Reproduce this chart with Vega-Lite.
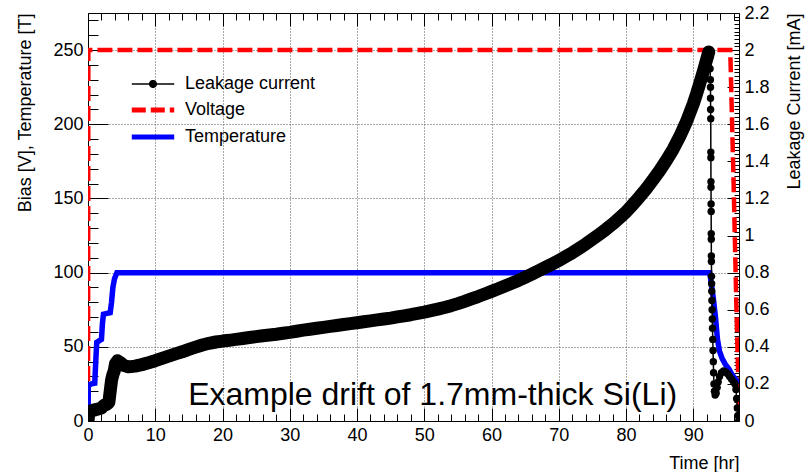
{
  "$schema": "https://vega.github.io/schema/vega-lite/v6.json",
  "width": 651,
  "height": 408,
  "autosize": "none",
  "padding": {"left": 88, "top": 13, "right": 69, "bottom": 51},
  "background": "white",
  "config": {
    "font": "Liberation Sans",
    "view": {"stroke": "black", "strokeWidth": 1},
    "axis": {
      "labelFont": "Liberation Sans", "titleFont": "Liberation Sans",
      "labelFontSize": 18, "titleFontSize": 18, "titleFontWeight": "normal",
      "labelColor": "black", "titleColor": "black", "tickColor": "black", "tickWidth": 1,
      "domain": false, "labelFlush": false, "labelOverlap": false,
      "gridColor": "#555", "gridDash": [1, 2], "gridWidth": 1
    }
  },
  "datasets": {
    "voltage": [
      {"t": 0, "v": 0, "series": "Voltage"},
      {"t": 0.05, "v": 250, "series": "Voltage"},
      {"t": 95.5, "v": 250, "series": "Voltage"},
      {"t": 96.0, "v": 160, "series": "Voltage"},
      {"t": 96.4, "v": 80, "series": "Voltage"},
      {"t": 96.85, "v": 0, "series": "Voltage"}
    ],
    "temperature": [
      {"t": 0, "v": 0, "series": "Temperature"},
      {"t": 0.05, "v": 24, "series": "Temperature"},
      {"t": 0.5, "v": 25, "series": "Temperature"},
      {"t": 1.0, "v": 25.5, "series": "Temperature"},
      {"t": 1.15, "v": 40, "series": "Temperature"},
      {"t": 1.3, "v": 53, "series": "Temperature"},
      {"t": 2.0, "v": 55, "series": "Temperature"},
      {"t": 2.15, "v": 66, "series": "Temperature"},
      {"t": 2.3, "v": 72, "series": "Temperature"},
      {"t": 3.3, "v": 73, "series": "Temperature"},
      {"t": 3.5, "v": 80, "series": "Temperature"},
      {"t": 3.7, "v": 90, "series": "Temperature"},
      {"t": 3.95, "v": 96, "series": "Temperature"},
      {"t": 4.3, "v": 100, "series": "Temperature"},
      {"t": 92.45, "v": 100, "series": "Temperature"},
      {"t": 92.7, "v": 92, "series": "Temperature"},
      {"t": 93.0, "v": 82, "series": "Temperature"},
      {"t": 93.3, "v": 70, "series": "Temperature"},
      {"t": 93.6, "v": 55, "series": "Temperature"},
      {"t": 93.9, "v": 47, "series": "Temperature"},
      {"t": 94.3, "v": 42, "series": "Temperature"},
      {"t": 94.8, "v": 38, "series": "Temperature"},
      {"t": 95.3, "v": 35, "series": "Temperature"},
      {"t": 95.8, "v": 31, "series": "Temperature"},
      {"t": 96.3, "v": 28, "series": "Temperature"},
      {"t": 96.8, "v": 25.5, "series": "Temperature"}
    ],
    "note": [
      {"t": 51.25, "v": 10.8, "label": "Example drift of 1.7mm-thick Si(Li)"}
    ],
    "leak": [
      {"t": 0, "mA": 0.0, "phase": "drift", "series": "Leakage current"},
      {"t": 0.15, "mA": 0.05, "phase": "drift", "series": "Leakage current"},
      {"t": 0.5, "mA": 0.055, "phase": "drift", "series": "Leakage current"},
      {"t": 1.0, "mA": 0.06, "phase": "drift", "series": "Leakage current"},
      {"t": 1.5, "mA": 0.065, "phase": "drift", "series": "Leakage current"},
      {"t": 2.0, "mA": 0.07, "phase": "drift", "series": "Leakage current"},
      {"t": 2.4, "mA": 0.085, "phase": "drift", "series": "Leakage current"},
      {"t": 2.8, "mA": 0.09, "phase": "drift", "series": "Leakage current"},
      {"t": 3.1, "mA": 0.1, "phase": "drift", "series": "Leakage current"},
      {"t": 3.3, "mA": 0.16, "phase": "drift", "series": "Leakage current"},
      {"t": 3.5, "mA": 0.22, "phase": "drift", "series": "Leakage current"},
      {"t": 3.7, "mA": 0.25, "phase": "drift", "series": "Leakage current"},
      {"t": 3.9, "mA": 0.27, "phase": "drift", "series": "Leakage current"},
      {"t": 4.1, "mA": 0.31, "phase": "drift", "series": "Leakage current"},
      {"t": 4.4, "mA": 0.325, "phase": "drift", "series": "Leakage current"},
      {"t": 4.8, "mA": 0.315, "phase": "drift", "series": "Leakage current"},
      {"t": 5.3, "mA": 0.3, "phase": "drift", "series": "Leakage current"},
      {"t": 6, "mA": 0.292, "phase": "drift", "series": "Leakage current"},
      {"t": 7, "mA": 0.296, "phase": "drift", "series": "Leakage current"},
      {"t": 8, "mA": 0.304, "phase": "drift", "series": "Leakage current"},
      {"t": 9, "mA": 0.314, "phase": "drift", "series": "Leakage current"},
      {"t": 10, "mA": 0.325, "phase": "drift", "series": "Leakage current"},
      {"t": 11, "mA": 0.338, "phase": "drift", "series": "Leakage current"},
      {"t": 12, "mA": 0.35, "phase": "drift", "series": "Leakage current"},
      {"t": 13, "mA": 0.362, "phase": "drift", "series": "Leakage current"},
      {"t": 14, "mA": 0.373, "phase": "drift", "series": "Leakage current"},
      {"t": 15, "mA": 0.386, "phase": "drift", "series": "Leakage current"},
      {"t": 16, "mA": 0.398, "phase": "drift", "series": "Leakage current"},
      {"t": 17, "mA": 0.41, "phase": "drift", "series": "Leakage current"},
      {"t": 18, "mA": 0.419, "phase": "drift", "series": "Leakage current"},
      {"t": 19, "mA": 0.426, "phase": "drift", "series": "Leakage current"},
      {"t": 20, "mA": 0.431, "phase": "drift", "series": "Leakage current"},
      {"t": 21, "mA": 0.435, "phase": "drift", "series": "Leakage current"},
      {"t": 22, "mA": 0.44, "phase": "drift", "series": "Leakage current"},
      {"t": 23, "mA": 0.445, "phase": "drift", "series": "Leakage current"},
      {"t": 24, "mA": 0.45, "phase": "drift", "series": "Leakage current"},
      {"t": 25, "mA": 0.455, "phase": "drift", "series": "Leakage current"},
      {"t": 26, "mA": 0.46, "phase": "drift", "series": "Leakage current"},
      {"t": 27, "mA": 0.464, "phase": "drift", "series": "Leakage current"},
      {"t": 28, "mA": 0.468, "phase": "drift", "series": "Leakage current"},
      {"t": 29, "mA": 0.473, "phase": "drift", "series": "Leakage current"},
      {"t": 30, "mA": 0.478, "phase": "drift", "series": "Leakage current"},
      {"t": 31, "mA": 0.484, "phase": "drift", "series": "Leakage current"},
      {"t": 32, "mA": 0.49, "phase": "drift", "series": "Leakage current"},
      {"t": 33, "mA": 0.495, "phase": "drift", "series": "Leakage current"},
      {"t": 34, "mA": 0.5, "phase": "drift", "series": "Leakage current"},
      {"t": 35, "mA": 0.505, "phase": "drift", "series": "Leakage current"},
      {"t": 36, "mA": 0.51, "phase": "drift", "series": "Leakage current"},
      {"t": 37, "mA": 0.515, "phase": "drift", "series": "Leakage current"},
      {"t": 38, "mA": 0.52, "phase": "drift", "series": "Leakage current"},
      {"t": 39, "mA": 0.525, "phase": "drift", "series": "Leakage current"},
      {"t": 40, "mA": 0.53, "phase": "drift", "series": "Leakage current"},
      {"t": 41, "mA": 0.535, "phase": "drift", "series": "Leakage current"},
      {"t": 42, "mA": 0.54, "phase": "drift", "series": "Leakage current"},
      {"t": 43, "mA": 0.545, "phase": "drift", "series": "Leakage current"},
      {"t": 44, "mA": 0.55, "phase": "drift", "series": "Leakage current"},
      {"t": 45, "mA": 0.555, "phase": "drift", "series": "Leakage current"},
      {"t": 46, "mA": 0.561, "phase": "drift", "series": "Leakage current"},
      {"t": 47, "mA": 0.567, "phase": "drift", "series": "Leakage current"},
      {"t": 48, "mA": 0.573, "phase": "drift", "series": "Leakage current"},
      {"t": 49, "mA": 0.58, "phase": "drift", "series": "Leakage current"},
      {"t": 50, "mA": 0.587, "phase": "drift", "series": "Leakage current"},
      {"t": 51, "mA": 0.595, "phase": "drift", "series": "Leakage current"},
      {"t": 52, "mA": 0.603, "phase": "drift", "series": "Leakage current"},
      {"t": 53, "mA": 0.612, "phase": "drift", "series": "Leakage current"},
      {"t": 54, "mA": 0.622, "phase": "drift", "series": "Leakage current"},
      {"t": 55, "mA": 0.633, "phase": "drift", "series": "Leakage current"},
      {"t": 56, "mA": 0.645, "phase": "drift", "series": "Leakage current"},
      {"t": 57, "mA": 0.658, "phase": "drift", "series": "Leakage current"},
      {"t": 58, "mA": 0.671, "phase": "drift", "series": "Leakage current"},
      {"t": 59, "mA": 0.685, "phase": "drift", "series": "Leakage current"},
      {"t": 60, "mA": 0.699, "phase": "drift", "series": "Leakage current"},
      {"t": 61, "mA": 0.713, "phase": "drift", "series": "Leakage current"},
      {"t": 62, "mA": 0.728, "phase": "drift", "series": "Leakage current"},
      {"t": 63, "mA": 0.743, "phase": "drift", "series": "Leakage current"},
      {"t": 64, "mA": 0.758, "phase": "drift", "series": "Leakage current"},
      {"t": 65, "mA": 0.775, "phase": "drift", "series": "Leakage current"},
      {"t": 66, "mA": 0.792, "phase": "drift", "series": "Leakage current"},
      {"t": 67, "mA": 0.81, "phase": "drift", "series": "Leakage current"},
      {"t": 68, "mA": 0.828, "phase": "drift", "series": "Leakage current"},
      {"t": 69, "mA": 0.846, "phase": "drift", "series": "Leakage current"},
      {"t": 70, "mA": 0.865, "phase": "drift", "series": "Leakage current"},
      {"t": 71, "mA": 0.886, "phase": "drift", "series": "Leakage current"},
      {"t": 72, "mA": 0.907, "phase": "drift", "series": "Leakage current"},
      {"t": 73, "mA": 0.93, "phase": "drift", "series": "Leakage current"},
      {"t": 74, "mA": 0.954, "phase": "drift", "series": "Leakage current"},
      {"t": 75, "mA": 0.98, "phase": "drift", "series": "Leakage current"},
      {"t": 76, "mA": 1.006, "phase": "drift", "series": "Leakage current"},
      {"t": 77, "mA": 1.033, "phase": "drift", "series": "Leakage current"},
      {"t": 78, "mA": 1.062, "phase": "drift", "series": "Leakage current"},
      {"t": 79, "mA": 1.094, "phase": "drift", "series": "Leakage current"},
      {"t": 80, "mA": 1.127, "phase": "drift", "series": "Leakage current"},
      {"t": 81, "mA": 1.167, "phase": "drift", "series": "Leakage current"},
      {"t": 82, "mA": 1.208, "phase": "drift", "series": "Leakage current"},
      {"t": 83, "mA": 1.252, "phase": "drift", "series": "Leakage current"},
      {"t": 84, "mA": 1.3, "phase": "drift", "series": "Leakage current"},
      {"t": 85, "mA": 1.35, "phase": "drift", "series": "Leakage current"},
      {"t": 86, "mA": 1.405, "phase": "drift", "series": "Leakage current"},
      {"t": 87, "mA": 1.465, "phase": "drift", "series": "Leakage current"},
      {"t": 88, "mA": 1.535, "phase": "drift", "series": "Leakage current"},
      {"t": 89, "mA": 1.615, "phase": "drift", "series": "Leakage current"},
      {"t": 90, "mA": 1.71, "phase": "drift", "series": "Leakage current"},
      {"t": 90.5, "mA": 1.765, "phase": "drift", "series": "Leakage current"},
      {"t": 91, "mA": 1.825, "phase": "drift", "series": "Leakage current"},
      {"t": 91.5, "mA": 1.885, "phase": "drift", "series": "Leakage current"},
      {"t": 92, "mA": 1.95, "phase": "drift", "series": "Leakage current"},
      {"t": 92.3, "mA": 1.99, "phase": "drift", "series": "Leakage current"},
      {"t": 92.45, "mA": 1.96, "phase": "drop", "series": "Leakage current"},
      {"t": 92.5, "mA": 1.9, "phase": "drop", "series": "Leakage current"},
      {"t": 92.55, "mA": 1.84, "phase": "drop", "series": "Leakage current"},
      {"t": 92.56, "mA": 1.8, "phase": "drop", "series": "Leakage current"},
      {"t": 92.57, "mA": 1.74, "phase": "drop", "series": "Leakage current"},
      {"t": 92.58, "mA": 1.68, "phase": "drop", "series": "Leakage current"},
      {"t": 92.6, "mA": 1.63, "phase": "drop", "series": "Leakage current"},
      {"t": 92.61, "mA": 1.45, "phase": "drop", "series": "Leakage current"},
      {"t": 92.62, "mA": 1.42, "phase": "drop", "series": "Leakage current"},
      {"t": 92.63, "mA": 1.29, "phase": "drop", "series": "Leakage current"},
      {"t": 92.64, "mA": 1.26, "phase": "drop", "series": "Leakage current"},
      {"t": 92.65, "mA": 1.17, "phase": "drop", "series": "Leakage current"},
      {"t": 92.66, "mA": 1.13, "phase": "drop", "series": "Leakage current"},
      {"t": 92.67, "mA": 1.01, "phase": "drop", "series": "Leakage current"},
      {"t": 92.68, "mA": 0.98, "phase": "drop", "series": "Leakage current"},
      {"t": 92.69, "mA": 0.89, "phase": "drop", "series": "Leakage current"},
      {"t": 92.7, "mA": 0.86, "phase": "drop", "series": "Leakage current"},
      {"t": 92.72, "mA": 0.78, "phase": "drop", "series": "Leakage current"},
      {"t": 92.73, "mA": 0.74, "phase": "drop", "series": "Leakage current"},
      {"t": 92.75, "mA": 0.7, "phase": "drop", "series": "Leakage current"},
      {"t": 92.77, "mA": 0.65, "phase": "drop", "series": "Leakage current"},
      {"t": 92.8, "mA": 0.6, "phase": "drop", "series": "Leakage current"},
      {"t": 92.83, "mA": 0.55, "phase": "drop", "series": "Leakage current"},
      {"t": 92.86, "mA": 0.5, "phase": "drop", "series": "Leakage current"},
      {"t": 92.9, "mA": 0.44, "phase": "drop", "series": "Leakage current"},
      {"t": 92.94, "mA": 0.38, "phase": "drop", "series": "Leakage current"},
      {"t": 92.98, "mA": 0.32, "phase": "drop", "series": "Leakage current"},
      {"t": 93.02, "mA": 0.26, "phase": "drop", "series": "Leakage current"},
      {"t": 93.08, "mA": 0.2, "phase": "drop", "series": "Leakage current"},
      {"t": 93.15, "mA": 0.16, "phase": "drop", "series": "Leakage current"},
      {"t": 93.25, "mA": 0.14, "phase": "drop", "series": "Leakage current"},
      {"t": 93.4, "mA": 0.15, "phase": "drop", "series": "Leakage current"},
      {"t": 93.55, "mA": 0.18, "phase": "drop", "series": "Leakage current"},
      {"t": 93.7, "mA": 0.21, "phase": "drop", "series": "Leakage current"},
      {"t": 93.9, "mA": 0.24, "phase": "drop", "series": "Leakage current"},
      {"t": 94.2, "mA": 0.26, "phase": "drop", "series": "Leakage current"},
      {"t": 94.5, "mA": 0.27, "phase": "drop", "series": "Leakage current"},
      {"t": 94.8, "mA": 0.265, "phase": "drop", "series": "Leakage current"},
      {"t": 95.1, "mA": 0.255, "phase": "drop", "series": "Leakage current"},
      {"t": 95.4, "mA": 0.24, "phase": "drop", "series": "Leakage current"},
      {"t": 95.7, "mA": 0.225, "phase": "drop", "series": "Leakage current"},
      {"t": 96.0, "mA": 0.21, "phase": "drop", "series": "Leakage current"},
      {"t": 96.2, "mA": 0.2, "phase": "drop", "series": "Leakage current"},
      {"t": 96.35, "mA": 0.17, "phase": "drop", "series": "Leakage current"},
      {"t": 96.45, "mA": 0.12, "phase": "drop", "series": "Leakage current"},
      {"t": 96.55, "mA": 0.07, "phase": "drop", "series": "Leakage current"},
      {"t": 96.65, "mA": 0.03, "phase": "drop", "series": "Leakage current"},
      {"t": 96.75, "mA": 0.0, "phase": "drop", "series": "Leakage current"}
    ]
  },
  "layer": [
    {
      "encoding": {
        "x": {
          "field": "t", "type": "quantitative",
          "scale": {"domain": [0, 96.8], "nice": false, "zero": false},
          "axis": {
            "orient": "bottom", "title": "Time [hr]",
            "titleX": 651, "titleY": 47, "titleAlign": "right", "titleBaseline": "alphabetic",
            "values": [0,2,4,6,8,10,12,14,16,18,20,22,24,26,28,30,32,34,36,38,40,42,44,46,48,50,52,54,56,58,60,62,64,66,68,70,72,74,76,78,80,82,84,86,88,90,92,94,96],
            "labelExpr": "datum.value % 10 === 0 ? datum.value + '' : ''",
            "tickSize": {"condition": {"test": "datum.value % 10 === 0", "value": -13}, "value": -7},
            "labelPadding": 18, "labelBaseline": "top",
            "grid": true,
            "gridOpacity": {"condition": {"test": "datum.value % 10 === 0 && datum.value > 0", "value": 1}, "value": 0}
          }
        },
        "y": {
          "field": "v", "type": "quantitative",
          "scale": {"domain": [0, 275], "nice": false, "zero": true},
          "axis": {
            "orient": "left", "title": "Bias [V], Temperature [T]",
            "titleAngle": -90, "titleX": -58, "titleY": 0, "titleAlign": "right", "titleBaseline": "alphabetic",
            "values": [0,10,20,30,40,50,60,70,80,90,100,110,120,130,140,150,160,170,180,190,200,210,220,230,240,250,260,270],
            "labelExpr": "datum.value % 50 === 0 ? datum.value + '' : ''",
            "tickSize": {"condition": {"test": "datum.value % 50 === 0", "value": -20}, "value": -10},
            "labelPadding": 25,
            "grid": true,
            "gridOpacity": {"condition": {"test": "datum.value % 50 === 0 && datum.value > 0", "value": 1}, "value": 0}
          }
        }
      },
      "layer": [
        {
          "data": {"name": "voltage"},
          "mark": {"type": "line", "strokeWidth": 4.5, "strokeDash": [15, 5], "clip": true},
          "encoding": {
            "color": {
              "field": "series", "type": "nominal",
              "scale": {"domain": ["Leakage current", "Voltage", "Temperature"], "range": ["#000000", "#ff0000", "#0000ff"]},
              "legend": {
                "title": null, "orient": "none", "legendX": 56, "legendY": 62, "padding": 0,
                "labelFontSize": 18, "labelFont": "Liberation Sans", "labelColor": "black",
                "symbolSize": 200, "labelOffset": 23, "rowPadding": 7,
                "encode": {"symbols": {"update": {
                  "shape": {"signal": "datum.value === 'Leakage current' ? 'M-3,0L3,0M-0.47,0A0.47,0.47,0,1,0,0.47,0A0.47,0.47,0,1,0,-0.47,0Z' : 'M-3,0L3,0'"},
                  "fill": {"signal": "datum.value === 'Leakage current' ? 'black' : 'transparent'"},
                  "strokeWidth": {"signal": "datum.value === 'Leakage current' ? 1.5 : 5"},
                  "strokeDash": {"signal": "datum.value === 'Voltage' ? [14, 5] : [1, 0]"}
                }}}
              }
            }
          }
        },
        {
          "data": {"name": "temperature"},
          "mark": {"type": "line", "strokeWidth": 5.5, "clip": true},
          "encoding": {
            "color": {
              "field": "series", "type": "nominal",
              "scale": {"domain": ["Leakage current", "Voltage", "Temperature"], "range": ["#000000", "#ff0000", "#0000ff"]},
              "legend": {
                "title": null, "orient": "none", "legendX": 56, "legendY": 62, "padding": 0,
                "labelFontSize": 18, "labelFont": "Liberation Sans", "labelColor": "black",
                "symbolSize": 200, "labelOffset": 23, "rowPadding": 7,
                "encode": {"symbols": {"update": {
                  "shape": {"signal": "datum.value === 'Leakage current' ? 'M-3,0L3,0M-0.47,0A0.47,0.47,0,1,0,0.47,0A0.47,0.47,0,1,0,-0.47,0Z' : 'M-3,0L3,0'"},
                  "fill": {"signal": "datum.value === 'Leakage current' ? 'black' : 'transparent'"},
                  "strokeWidth": {"signal": "datum.value === 'Leakage current' ? 1.5 : 5"},
                  "strokeDash": {"signal": "datum.value === 'Voltage' ? [14, 5] : [1, 0]"}
                }}}
              }
            }
          }
        },
        {
          "data": {"name": "note"},
          "mark": {"type": "text", "fontSize": 32, "align": "center", "baseline": "alphabetic", "font": "Liberation Sans", "color": "black"},
          "encoding": {"text": {"field": "label"}}
        }
      ]
    },
    {
      "data": {"name": "leak"},
      "encoding": {
        "x": {
          "field": "t", "type": "quantitative",
          "scale": {"domain": [0, 96.8], "nice": false, "zero": false},
          "axis": {
            "orient": "top", "title": null, "labels": false, "grid": false,
            "values": [0,2,4,6,8,10,12,14,16,18,20,22,24,26,28,30,32,34,36,38,40,42,44,46,48,50,52,54,56,58,60,62,64,66,68,70,72,74,76,78,80,82,84,86,88,90,92,94,96],
            "tickSize": {"condition": {"test": "datum.value % 10 === 0", "value": -13}, "value": -7}
          }
        },
        "y": {
          "field": "mA", "type": "quantitative",
          "scale": {"domain": [0, 2.2], "nice": false, "zero": true},
          "axis": {
            "orient": "right", "title": "Leakage Current [mA]",
            "titleAngle": -90, "titleX": 60, "titleY": 0, "titleAlign": "right", "titleBaseline": "alphabetic",
            "values": [0,0.02,0.04,0.06,0.08,0.1,0.12,0.14,0.16,0.18,0.2,0.22,0.24,0.26,0.28,0.3,0.32,0.34,0.36,0.38,0.4,0.42,0.44,0.46,0.48,0.5,0.52,0.54,0.56,0.58,0.6,0.62,0.64,0.66,0.68,0.7,0.72,0.74,0.76,0.78,0.8,0.82,0.84,0.86,0.88,0.9,0.92,0.94,0.96,0.98,1,1.02,1.04,1.06,1.08,1.1,1.12,1.14,1.16,1.18,1.2,1.22,1.24,1.26,1.28,1.3,1.32,1.34,1.36,1.38,1.4,1.42,1.44,1.46,1.48,1.5,1.52,1.54,1.56,1.58,1.6,1.62,1.64,1.66,1.68,1.7,1.72,1.74,1.76,1.78,1.8,1.82,1.84,1.86,1.88,1.9,1.92,1.94,1.96,1.98,2,2.02,2.04,2.06,2.08,2.1,2.12,2.14,2.16,2.18,2.2],
            "labelExpr": "abs(datum.value * 5 - round(datum.value * 5)) < 0.001 ? format(datum.value, '.1~f') : ''",
            "tickSize": {"condition": {"test": "abs(datum.value * 5 - round(datum.value * 5)) < 0.001", "value": -12}, "value": -5},
            "labelPadding": 17,
            "grid": false
          }
        }
      },
      "layer": [
        {
          "mark": {"type": "line", "strokeWidth": 1.5, "clip": true},
          "encoding": {
            "color": {
              "field": "series", "type": "nominal",
              "scale": {"domain": ["Leakage current", "Voltage", "Temperature"], "range": ["#000000", "#ff0000", "#0000ff"]},
              "legend": {
                "title": null, "orient": "none", "legendX": 56, "legendY": 62, "padding": 0,
                "labelFontSize": 18, "labelFont": "Liberation Sans", "labelColor": "black",
                "symbolSize": 200, "labelOffset": 23, "rowPadding": 7,
                "encode": {"symbols": {"update": {
                  "shape": {"signal": "datum.value === 'Leakage current' ? 'M-3,0L3,0M-0.47,0A0.47,0.47,0,1,0,0.47,0A0.47,0.47,0,1,0,-0.47,0Z' : 'M-3,0L3,0'"},
                  "fill": {"signal": "datum.value === 'Leakage current' ? 'black' : 'transparent'"},
                  "strokeWidth": {"signal": "datum.value === 'Leakage current' ? 1.5 : 5"},
                  "strokeDash": {"signal": "datum.value === 'Voltage' ? [14, 5] : [1, 0]"}
                }}}
              }
            }
          }
        },
        {
          "transform": [{"filter": "datum.phase === 'drift'"}],
          "mark": {"type": "line", "strokeWidth": 13, "strokeCap": "round", "strokeJoin": "round", "color": "black", "clip": true}
        },
        {
          "transform": [{"filter": "datum.phase === 'drop'"}],
          "mark": {"type": "point", "filled": true, "size": 55, "opacity": 1, "color": "black", "clip": true}
        }
      ]
    }
  ],
  "resolve": {"scale": {"y": "independent"}, "axis": {"x": "independent"}}
}
